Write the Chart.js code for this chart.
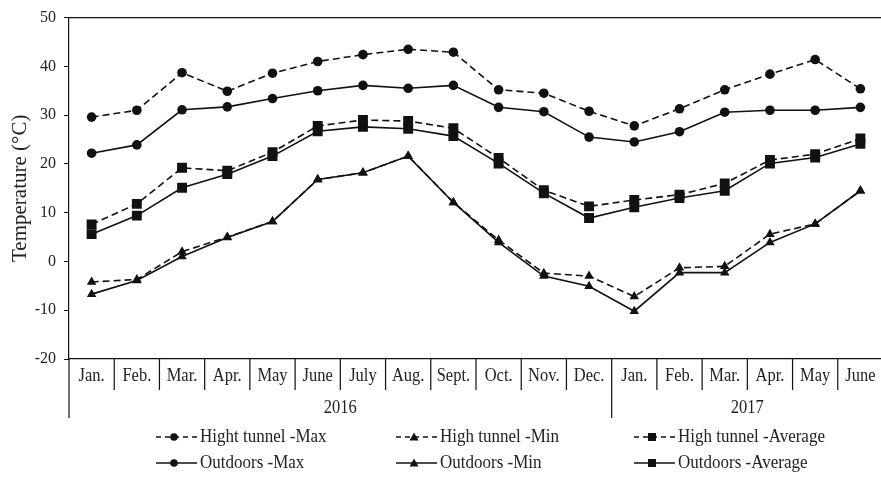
<!DOCTYPE html>
<html>
<head>
<meta charset="utf-8">
<script src="https://cdn.jsdelivr.net/npm/chart.js@4/dist/chart.umd.min.js"></script>
<style>
  html, body { margin: 0; padding: 0; background: #fff; overflow: hidden; }
  #wrap { width: 890px; height: 477px; }
</style>
</head>
<body>
<div id="wrap"><canvas id="tempChart"></canvas></div>
<script>
// month labels, and the year each group of months belongs to
const months = ['Jan.', 'Feb.', 'Mar.', 'Apr.', 'May', 'June', 'July', 'Aug.', 'Sept.', 'Oct.', 'Nov.', 'Dec.',
                'Jan.', 'Feb.', 'Mar.', 'Apr.', 'May', 'June'];
const years = [{ label: '2016', from: 0, to: 11 }, { label: '2017', from: 12, to: 17 }];
const yTicks = [-20, -10, 0, 10, 20, 30, 40, 50];

// values (°C)
const tunnelMax = [29.6, 31.0, 38.7, 34.9, 38.6, 41.0, 42.4, 43.5, 42.9, 35.2, 34.5, 30.8, 27.8, 31.3, 35.2, 38.4, 41.4, 35.4];
const tunnelMin = [-4.2, -3.7, 2.0, 5.0, 8.2, 16.8, 18.2, 21.6, 12.1, 4.4, -2.4, -3.0, -7.2, -1.3, -1.0, 5.6, 7.7, 14.5];
const tunnelAvg = [7.6, 11.8, 19.2, 18.6, 22.4, 27.8, 29.0, 28.8, 27.3, 21.2, 14.6, 11.3, 12.6, 13.7, 16.0, 20.8, 22.0, 25.2];
const outMax = [22.2, 23.9, 31.1, 31.7, 33.4, 35.0, 36.1, 35.5, 36.1, 31.6, 30.7, 25.5, 24.5, 26.6, 30.6, 31.0, 31.0, 31.6];
const outMin = [-6.7, -3.9, 1.0, 4.9, 8.2, 16.8, 18.2, 21.6, 12.1, 3.9, -3.0, -5.1, -10.2, -2.3, -2.3, 3.9, 7.7, 14.5];
const outAvg = [5.6, 9.4, 15.1, 17.9, 21.6, 26.7, 27.6, 27.2, 25.7, 20.1, 14.0, 8.9, 11.1, 13.0, 14.5, 20.1, 21.3, 24.1];

const INK = '#111';
const TEXT = '#222';
const DASH = [7, 4];
const FONT = '"Liberation Serif", "DejaVu Serif", serif';

function series(label, data, style, dashed) {
  const radius = style === 'rect' ? 7 : (style === 'triangle' ? 5.5 : 4.8);
  return {
    label: label,
    data: data,
    borderColor: INK,
    backgroundColor: INK,
    borderWidth: 1.6,
    borderDash: dashed ? DASH : [],
    pointStyle: style,
    pointRadius: radius,
    pointBorderWidth: 0,
    pointBackgroundColor: INK,
    fill: false,
    tension: 0
  };
}

// text a little taller than wide, like the original figure
function tallText(ctx, str, x, y, sy) {
  ctx.save();
  ctx.translate(x, y);
  ctx.scale(1, sy);
  ctx.fillText(str, 0, 0);
  ctx.restore();
}

// draws the title, the two-row month/year axis and the legend underneath
const axisAndLegend = {
  id: 'axisAndLegend',
  afterDraw(chart) {
    const { ctx, chartArea } = chart;
    const x = chart.scales.x;
    const bottom = chartArea.bottom;
    const centers = months.map((m, i) => x.getPixelForValue(i));
    const half = (centers[1] - centers[0]) / 2;
    ctx.save();
    ctx.strokeStyle = INK;
    ctx.lineWidth = 1.2;
    ctx.fillStyle = TEXT;

    // y title
    ctx.save();
    ctx.translate(20, (chartArea.top + chartArea.bottom) / 2);
    ctx.rotate(-Math.PI / 2);
    ctx.font = '21px ' + FONT;
    ctx.textAlign = 'center';
    ctx.textBaseline = 'middle';
    ctx.fillText('Temperature (°C)', 0, 0);
    ctx.restore();

    // top frame line
    ctx.beginPath();
    ctx.moveTo(chartArea.left, chartArea.top);
    ctx.lineTo(chartArea.right, chartArea.top);
    ctx.stroke();

    // separators between months
    const yearStarts = years.map(y => y.from);
    for (let i = 0; i <= months.length; i++) {
      const px = i === 0 ? chartArea.left : (i === months.length ? chartArea.right : centers[i] - half);
      const long = i === 0 || i === months.length || yearStarts.includes(i);
      ctx.beginPath();
      ctx.moveTo(px, bottom);
      ctx.lineTo(px, bottom + (long ? 59 : 31));
      ctx.stroke();
    }

    // month labels
    ctx.font = '16.5px ' + FONT;
    ctx.textAlign = 'center';
    ctx.textBaseline = 'middle';
    months.forEach((m, i) => tallText(ctx, m, centers[i], bottom + 17, 1.1));

    // year labels
    years.forEach(y => {
      const l = y.from === 0 ? chartArea.left : centers[y.from] - half;
      const r = y.to === months.length - 1 ? chartArea.right : centers[y.to] + half;
      tallText(ctx, y.label, (l + r) / 2, bottom + 49, 1.1);
    });

    // legend
    const cols = [156, 396, 634];
    const rows = [437, 463];
    ctx.font = '17px ' + FONT;
    chart.data.datasets.forEach((ds, i) => {
      const sx = cols[i % 3];
      const sy = rows[Math.floor(i / 3)];
      ctx.beginPath();
      ctx.setLineDash(ds.borderDash.length ? [5, 4] : []);
      ctx.lineWidth = 1.5;
      ctx.moveTo(sx, sy);
      ctx.lineTo(sx + 41, sy);
      ctx.stroke();
      ctx.setLineDash([]);
      const cx = sx + 18;
      ctx.fillStyle = INK;
      ctx.beginPath();
      if (ds.pointStyle === 'circle') {
        ctx.arc(cx, sy, 3.8, 0, Math.PI * 2);
      } else if (ds.pointStyle === 'rect') {
        ctx.rect(cx - 4, sy - 4, 8, 8);
      } else {
        ctx.moveTo(cx, sy - 4.5);
        ctx.lineTo(cx + 4.5, sy + 3.5);
        ctx.lineTo(cx - 4.5, sy + 3.5);
        ctx.closePath();
      }
      ctx.fill();
      ctx.fillStyle = TEXT;
      ctx.textAlign = 'left';
      tallText(ctx, ds.label, sx + 44, sy, 1.1);
    });
    ctx.restore();
  }
};

new Chart(document.getElementById('tempChart'), {
  type: 'line',
  data: {
    labels: months,
    datasets: [
      series('Hight tunnel -Max', tunnelMax, 'circle', true),
      series('High tunnel -Min', tunnelMin, 'triangle', true),
      series('High tunnel -Average', tunnelAvg, 'rect', true),
      series('Outdoors -Max', outMax, 'circle', false),
      series('Outdoors -Min', outMin, 'triangle', false),
      series('Outdoors -Average', outAvg, 'rect', false)
    ]
  },
  options: {
    responsive: true,
    maintainAspectRatio: false,
    animation: false,
    layout: { padding: { top: 16, bottom: 118, left: 0, right: 2 } },
    plugins: {
      legend: { display: false },
      tooltip: { enabled: false }
    },
    scales: {
      x: {
        type: 'category',
        offset: true,
        ticks: { display: false },
        grid: { display: false },
        border: { display: true, color: INK, width: 1.2 },
        afterFit(scale) { scale.height = 0; }
      },
      y: {
        min: -20,
        max: 50,
        afterBuildTicks(scale) { scale.ticks = yTicks.map(v => ({ value: v })); },
        ticks: { color: TEXT, font: { family: FONT, size: 16 }, padding: 8 },
        grid: { drawOnChartArea: false, drawTicks: true, tickLength: 5, tickColor: INK },
        border: { display: true, color: INK, width: 1.2 },
        title: { display: false },
        afterFit(scale) { scale.width = 69; }
      }
    }
  },
  plugins: [axisAndLegend]
});
</script>
</body>
</html>
